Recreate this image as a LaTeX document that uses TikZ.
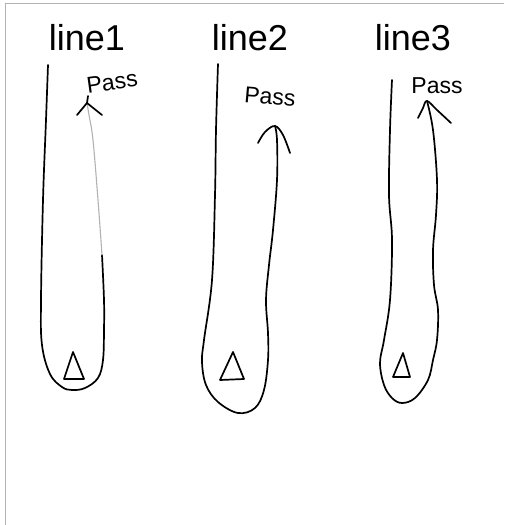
\documentclass[tikz,border=0pt]{standalone}
\usepackage{fontspec}
\setmainfont{Liberation Sans}
\begin{document}
\begin{tikzpicture}[x=1pt,y=-1pt,
  pen/.style={line width=1.7pt,line join=round,line cap=round},
  faint/.style={line width=1.1pt,gray!60,line cap=round},
  frameline/.style={line width=1pt,gray!60},
  title/.style={font=\fontsize{36}{36}\selectfont,inner sep=0pt,anchor=center},
  passlbl/.style={font=\fontsize{23}{23}\selectfont,inner sep=0pt,anchor=center}]
\useasboundingbox (0,0) rectangle (504,525);
% frame
\draw[frameline] (504,3) -- (5,3) -- (5,525);
% titles
\node[title] (t1) at (87,38) {line1};
\node[title] (t2) at (250,38) {line2};
\node[title] (t3) at (413,38) {line3};
% pass labels
\node[passlbl,rotate=8] (p1) at (112,82) {Pass};
\node[passlbl,rotate=-5] (p2) at (270,97) {Pass};
\node[passlbl] (p3) at (437,86) {Pass};
% arrow tips (apex coordinates)
\coordinate (a1) at (87,103);
\coordinate (a2) at (275,126);
\coordinate (a3) at (427,101);
% route 1
\draw[pen] plot[smooth,tension=0.6] coordinates {(48,65) (46,120) (43,200) (41,300) (42,345) (50,374) (62,387) (72,390) (85,388) (98,378) (103,360) (104,330) (104,300) (102,255)};
\draw[faint] plot[smooth,tension=0.6] coordinates {(102,255) (98,200) (93,140) (89,115) (a1)};
\draw[pen] (77,115) -- (a1) -- (102,115);
\draw[pen] (a1) -- (88,96);
% route 2
\draw[pen] plot[smooth,tension=0.6] coordinates {(218,64) (216,130) (215,195) (212,280) (204,340) (202,362) (206,385) (218,402) (238,413) (255,408) (264,390) (268,360) (268,333) (266,300) (269,265) (273,230) (277,180) (277,140) (a2)};
\draw[pen] plot[smooth,tension=0.6] coordinates {(258,143) (265,132) (a2) (283,135) (290,153)};
% route 3
\draw[pen] plot[smooth,tension=0.6] coordinates {(392,80) (390,130) (389,195) (392,240) (390,300) (384,340) (380,363) (384,385) (392,398) (402,403) (415,398) (428,380) (433,360) (437,340) (438,310) (434,285) (433,250) (436,215) (437,180) (433,130) (a3)};
\draw[pen] plot[smooth,tension=0.6] coordinates {(418,118) (423,108) (a3) (437,110) (451,123)};
% triangles
\draw[pen] (73,352) -- (64,379) -- (84,379) -- cycle;
\draw[pen] (233,352) -- (220,380) -- (244,379) -- cycle;
\draw[pen] (403,353) -- (393,377) -- (410,377) -- cycle;
\end{tikzpicture}
\end{document}
